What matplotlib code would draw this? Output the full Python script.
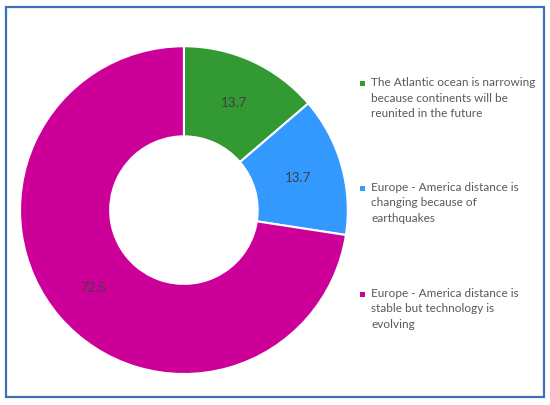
import matplotlib.pyplot as plt
from matplotlib.patches import Rectangle

# data
labels = ['The Atlantic ocean is narrowing\nbecause continents will be\nreunited in the future',
          'Europe - America distance is\nchanging because of\nearthquakes',
          'Europe - America distance is\nstable but technology is\nevolving']
values = [13.7, 13.7, 72.5]
colors = ['#339933', '#3399FF', '#CC0099']

plt.rcParams['font.family'] = ['Lato', 'DejaVu Sans']

fig = plt.figure(figsize=(5.5, 4.06), dpi=100)
fig.patch.set_facecolor('white')

# blue frame round the chart
fig.patches.append(Rectangle((6/550, 8/406), 538/550, 390/406, transform=fig.transFigure,
                             fill=False, edgecolor='#3F6FB6', linewidth=1.6))

ax = fig.add_axes([0.0364, 0.076, 0.596, 0.808])
total = sum(values)
wedges, texts, autotexts = ax.pie(values, colors=colors, startangle=90, counterclock=False,
                                  radius=1, pctdistance=0.725,
                                  autopct=lambda p: f'{p * total / 100:.1f}',
                                  wedgeprops=dict(width=0.55, edgecolor='white', linewidth=1.5),
                                  textprops=dict(color='#404040', fontsize=9.5))
ax.set_xlim(-1, 1)
ax.set_ylim(-1, 1)
ax.set_aspect('equal')

# legend drawn by hand, one block per slice
ys = [84, 189, 295]
for lab, col, y in zip(labels, colors, ys):
    fig.patches.append(Rectangle((360/550, 1 - (y + 3) / 406), 5/550, 5/406,
                                 transform=fig.transFigure, facecolor=col, edgecolor='none'))
    fig.text(371/550, 1 - (y - 7) / 406, lab, fontsize=8.5, color='#595959',
             va='top', ha='left', linespacing=1.5)

plt.savefig('out.png', dpi=100)
